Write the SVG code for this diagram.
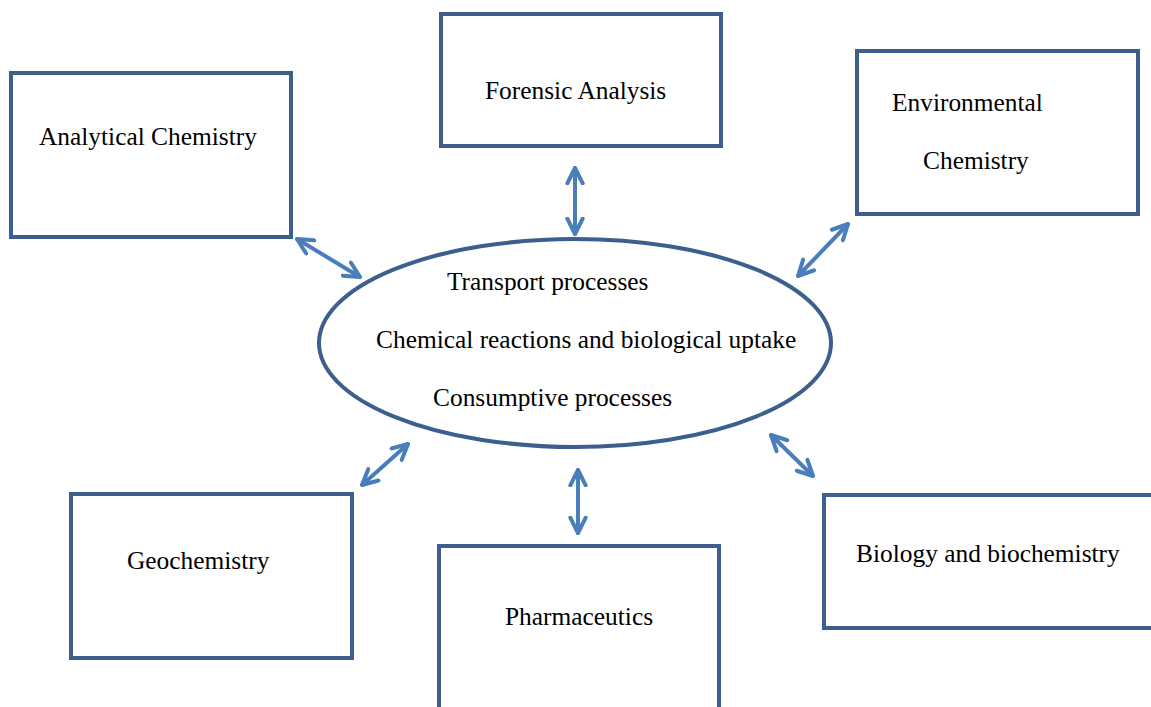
<svg xmlns="http://www.w3.org/2000/svg" width="1151" height="707" viewBox="0 0 1151 707">
  <style>
    .box { fill: #ffffff; stroke: #3c5f8e; stroke-width: 4; }
    .hub { fill: #ffffff; stroke: #3c5f8e; stroke-width: 4; }
    .lbl { font-family: "Liberation Serif", "Times New Roman", serif; font-size: 25.4px; fill: #000000; }
    .link { fill: none; stroke: #4a7ebb; stroke-width: 4; stroke-linecap: round; marker-start: url(#chev); marker-end: url(#chev); }
  </style>
  <defs>
    <!-- open chevron head shared by both ends of every connector -->
    <marker id="chev" viewBox="0 0 10 10" refX="9" refY="5" markerWidth="4.8" markerHeight="4.8" orient="auto-start-reverse" markerUnits="strokeWidth">
      <path d="M1,1 L9,5 L1,9" fill="none" stroke="#4a7ebb" stroke-width="2.1" stroke-linecap="round" stroke-linejoin="round"/>
    </marker>
  </defs>
  <rect width="1151" height="707" fill="#ffffff"/>

  <g id="center">
    <ellipse class="hub" cx="575" cy="343" rx="256" ry="104"/>
    <text class="lbl" x="447" y="290">Transport processes</text>
    <text class="lbl" x="376" y="348">Chemical reactions and biological uptake</text>
    <text class="lbl" x="433" y="406">Consumptive processes</text>
  </g>

  <g id="forensic">
    <rect class="box" x="441" y="14" width="280" height="132"/>
    <text class="lbl" x="485" y="99">Forensic Analysis</text>
  </g>

  <g id="analytical">
    <rect class="box" x="11" y="73" width="280" height="164"/>
    <text class="lbl" x="39" y="145">Analytical Chemistry</text>
  </g>

  <g id="environmental">
    <rect class="box" x="857" y="51" width="281" height="163"/>
    <text class="lbl" x="892" y="111">Environmental</text>
    <text class="lbl" x="923" y="169">Chemistry</text>
  </g>

  <g id="geochemistry">
    <rect class="box" x="71" y="494" width="281" height="164"/>
    <text class="lbl" x="127" y="569">Geochemistry</text>
  </g>

  <g id="pharmaceutics">
    <rect class="box" x="439" y="546" width="280" height="180"/>
    <text class="lbl" x="505" y="625">Pharmaceutics</text>
  </g>

  <g id="biology">
    <rect class="box" x="824" y="495" width="340" height="133"/>
    <text class="lbl" x="856" y="562">Biology and biochemistry</text>
  </g>

  <g id="connectors">
    <line class="link" x1="575" y1="168" x2="575" y2="234"/>
    <line class="link" x1="578" y1="470" x2="578" y2="533"/>
    <line class="link" x1="297" y1="239" x2="360" y2="277"/>
    <line class="link" x1="848" y1="224" x2="798" y2="276"/>
    <line class="link" x1="408" y1="444" x2="362" y2="485"/>
    <line class="link" x1="771" y1="435" x2="813" y2="476"/>
  </g>
</svg>
